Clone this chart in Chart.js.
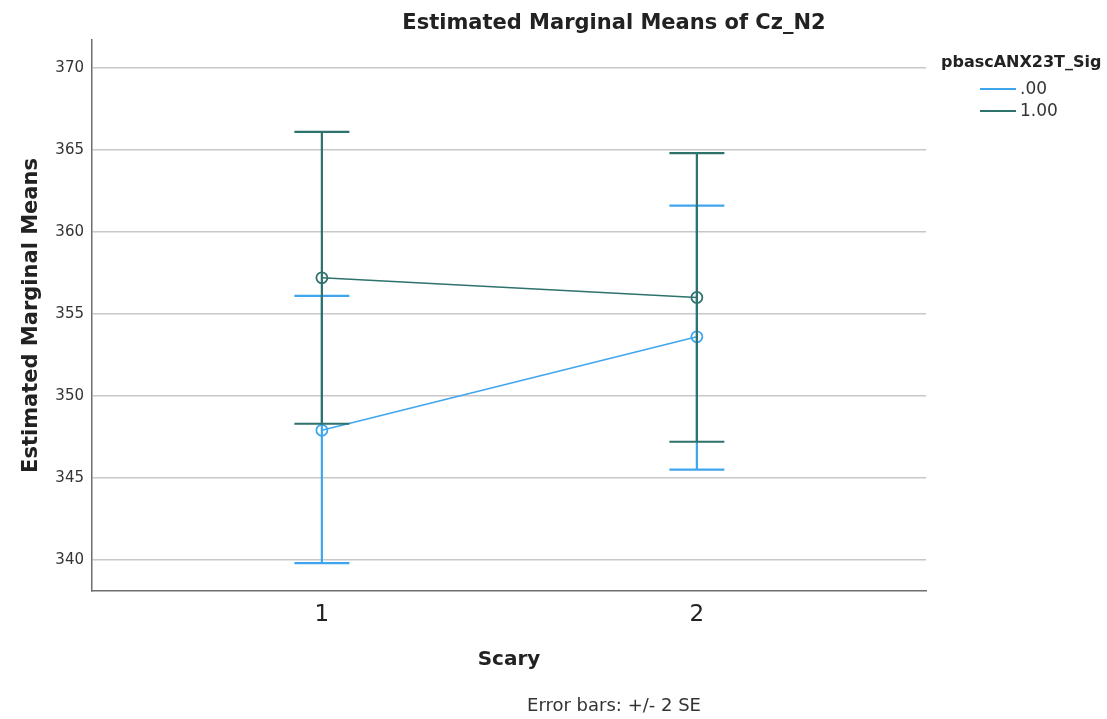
<!DOCTYPE html>
<html>
<head>
<meta charset="utf-8">
<script src="https://cdn.jsdelivr.net/npm/chart.js@4/dist/chart.umd.min.js"></script>
<style>
  html, body { margin: 0; padding: 0; background: #ffffff; }
  #wrap { position: relative; width: 1107px; height: 719px; overflow: hidden; font-family: "DejaVu Sans", sans-serif; }
  #c { position: absolute; left: 0; top: 0; }
  .t { position: absolute; white-space: nowrap; line-height: 1; color: #222; }
  #title { left: 614px; top: 22px; transform: translate(-50%, -50%); font-weight: bold; font-size: 21px; }
  #foot { left: 614px; top: 705px; transform: translate(-50%, -50%); font-size: 18px; color: #333; }
  #legTitle { left: 941px; top: 62px; transform: translateY(-50%); font-weight: bold; font-size: 16px; }
  .legItem { position: absolute; left: 980px; height: 20px; transform: translateY(-50%); }
  .legItem .sw { position: absolute; left: 0; top: 10px; width: 36px; height: 2px; }
  .legItem .lb { position: absolute; left: 40px; top: 2px; font-size: 17px; line-height: 1; color: #333; white-space: nowrap; }
</style>
</head>
<body>
<div id="wrap">
  <canvas id="c" width="1107" height="719"></canvas>
  <div class="t" id="title"></div>
  <div class="t" id="legTitle"></div>
  <div id="legend"></div>
  <div class="t" id="foot"></div>
</div>
<script>
// ---- data ----
const chartTitle = 'Estimated Marginal Means of Cz_N2';
const xAxisTitle = 'Scary';
const yAxisTitle = 'Estimated Marginal Means';
const legendTitle = 'pbascANX23T_Sig';
const footnote = 'Error bars: +/- 2 SE';
const categories = [1, 2];
const seriesNames = ['.00', '1.00'];
const meansA = [347.9, 353.6];
const upperA = [356.1, 361.6];
const lowerA = [339.8, 345.5];
const meansB = [357.2, 356.0];
const upperB = [366.1, 364.8];
const lowerB = [348.3, 347.2];
const yTickValues = [340, 345, 350, 355, 360, 365, 370];
const xTickValues = [1, 2];

// ---- styles ----
const colorA = '#3fa6ed';
const colorB = '#2e726c';
const capHalf = 27.5;

document.getElementById('title').textContent = chartTitle;
document.getElementById('legTitle').textContent = legendTitle;
document.getElementById('foot').textContent = footnote;
const legend = document.getElementById('legend');
[[seriesNames[0], colorA, 88], [seriesNames[1], colorB, 110]].forEach(([name, col, y]) => {
  const it = document.createElement('div');
  it.className = 'legItem';
  it.style.top = y + 'px';
  const sw = document.createElement('div'); sw.className = 'sw'; sw.style.background = col;
  const lb = document.createElement('div'); lb.className = 'lb'; lb.textContent = name;
  it.appendChild(sw); it.appendChild(lb);
  legend.appendChild(it);
});

const toPts = (vals) => categories.map((c, i) => ({ x: c, y: vals[i] }));

const errorBars = {
  id: 'errorBars',
  beforeDatasetDraw(chart, args) {
    const ds = chart.data.datasets[args.index];
    const xs = chart.scales.x, ys = chart.scales.y;
    const ctx = chart.ctx;
    ctx.save();
    ctx.strokeStyle = ds.borderColor;
    ctx.lineWidth = 2.2;
    ctx.lineCap = 'butt';
    categories.forEach((c, i) => {
      const px = xs.getPixelForValue(c);
      const pu = ys.getPixelForValue(ds.upper[i]);
      const pl = ys.getPixelForValue(ds.lower[i]);
      ctx.beginPath();
      ctx.moveTo(px, pu); ctx.lineTo(px, pl);
      ctx.moveTo(px - capHalf, pu); ctx.lineTo(px + capHalf, pu);
      ctx.moveTo(px - capHalf, pl); ctx.lineTo(px + capHalf, pl);
      ctx.stroke();
    });
    ctx.restore();
  }
};

new Chart(document.getElementById('c'), {
  type: 'line',
  data: {
    datasets: [
      { label: seriesNames[0], data: toPts(meansA), upper: upperA, lower: lowerA,
        borderColor: colorA, backgroundColor: 'rgba(0,0,0,0)', borderWidth: 1.5,
        pointRadius: 5.5, pointBorderWidth: 1.8, pointBackgroundColor: 'rgba(0,0,0,0)',
        pointBorderColor: colorA, tension: 0, order: 1 },
      { label: seriesNames[1], data: toPts(meansB), upper: upperB, lower: lowerB,
        borderColor: colorB, backgroundColor: 'rgba(0,0,0,0)', borderWidth: 1.5,
        pointRadius: 5.5, pointBorderWidth: 1.8, pointBackgroundColor: 'rgba(0,0,0,0)',
        pointBorderColor: colorB, tension: 0, order: 0 }
    ]
  },
  options: {
    responsive: false,
    animation: false,
    events: [],
    layout: { padding: { left: 0, top: 40, right: 181, bottom: 0 } },
    plugins: { legend: { display: false }, tooltip: { enabled: false }, title: { display: false } },
    scales: {
      x: {
        type: 'linear', min: 0.387, max: 2.611,
        afterBuildTicks: (s) => { s.ticks = xTickValues.map(v => ({ value: v })); },
        afterFit: (s) => { s.height = 128; },
        grid: { display: false, drawTicks: false },
        border: { display: true, color: '#6e6e6e', width: 1.5 },
        ticks: { padding: 10, color: '#222', font: { family: 'DejaVu Sans', size: 23 }, callback: (v) => String(v) },
        title: { display: true, text: xAxisTitle, color: '#222',
                 font: { family: 'DejaVu Sans', size: 20, weight: 'bold' }, padding: { top: 0, bottom: 47 } }
      },
      y: {
        type: 'linear', min: 338.1, max: 371.7,
        afterBuildTicks: (s) => { s.ticks = yTickValues.map(v => ({ value: v })); },
        afterFit: (s) => { s.width = 92; },
        grid: { display: true, drawTicks: false, color: '#c8c8c8', lineWidth: 1.5 },
        border: { display: true, color: '#6e6e6e', width: 1.5 },
        ticks: { padding: 8, color: '#333', font: { family: 'DejaVu Sans', size: 15 }, callback: (v) => String(v) },
        title: { display: true, text: yAxisTitle, color: '#222',
                 font: { family: 'DejaVu Sans', size: 21, weight: 'bold' }, padding: { top: 19, bottom: 0 } }
      }
    }
  },
  plugins: [errorBars]
});
</script>
</body>
</html>
